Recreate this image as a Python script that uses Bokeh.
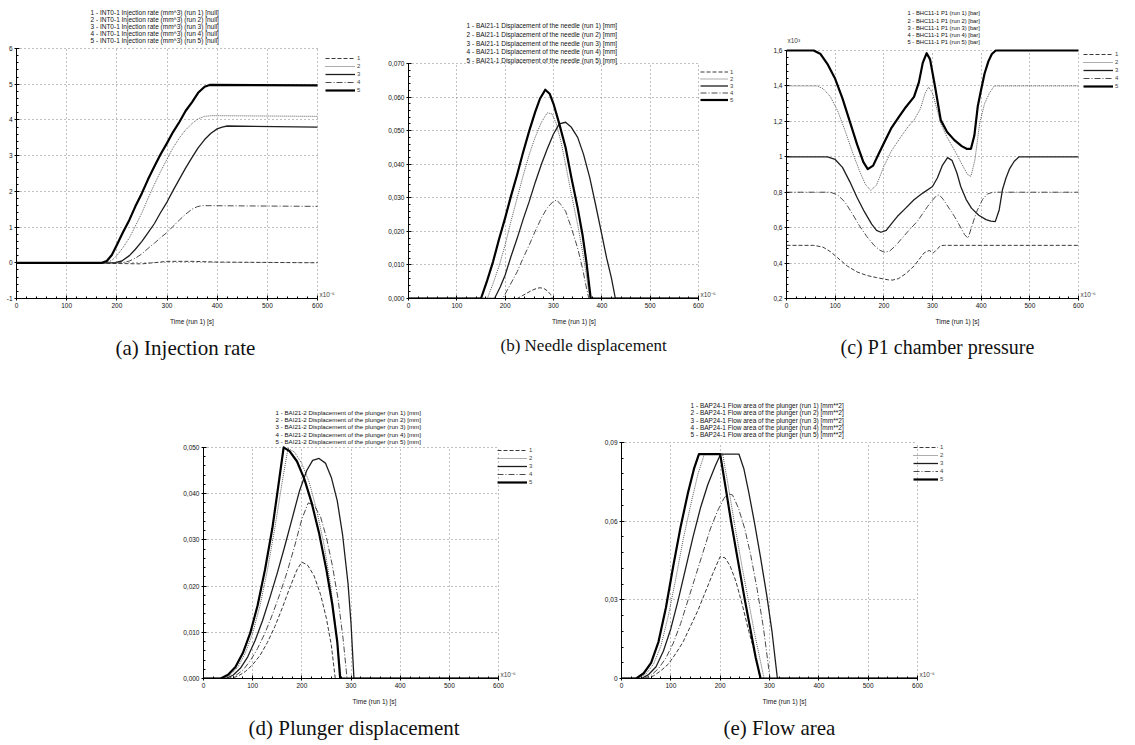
from bokeh.plotting import figure
from bokeh.layouts import column, row, Spacer
from bokeh.models import (Title, Legend, LegendItem, Label, Range1d,
                          SingleIntervalTicker, CustomJSTickFormatter)
from bokeh.embed import file_html
from bokeh.resources import INLINE

# ---------------- data ----------------
RUN_LABELS = ["1", "2", "3", "4", "5"]
TIME_LABEL = "Time (run 1) [s]"
X_TICK_MAX = 600

# (a) Injection rate (mm^3) vs time (x1e-6 s)
A_T1 = [0, 100, 200, 250, 280, 300, 350, 400, 500, 600]
A_V1 = [0, 0, -0.02, -0.03, 0.01, 0.04, 0.04, 0.02, 0.01, 0.0]
A_T2 = [0, 180, 190, 200, 212, 225, 237, 250, 262, 275, 287, 300, 312, 325, 337, 350, 362, 375, 390, 600]
A_V2 = [0, 0, 0.07, 0.2, 0.42, 0.7, 1.03, 1.4, 1.8, 2.2, 2.55, 2.9, 3.22, 3.5, 3.72, 3.9, 4.03, 4.1, 4.12, 4.1]
A_T3 = [0, 195, 210, 225, 237, 250, 262, 275, 287, 300, 312, 325, 337, 350, 362, 375, 387, 400, 410, 420, 600]
A_V3 = [0, 0, 0.05, 0.2, 0.38, 0.6, 0.84, 1.1, 1.4, 1.7, 2.02, 2.35, 2.65, 2.95, 3.22, 3.45, 3.62, 3.75, 3.8, 3.83, 3.8]
A_T4 = [0, 210, 225, 237, 250, 262, 275, 287, 300, 312, 325, 337, 350, 360, 370, 600]
A_V4 = [0, 0, 0.05, 0.13, 0.25, 0.4, 0.55, 0.7, 0.85, 1.02, 1.2, 1.36, 1.5, 1.57, 1.6, 1.58]
A_T5 = [0, 170, 180, 190, 200, 212, 225, 237, 250, 262, 275, 287, 300, 312, 325, 337, 350, 362, 375, 385, 600]
A_V5 = [0, 0, 0.05, 0.22, 0.5, 0.85, 1.2, 1.58, 1.95, 2.33, 2.7, 3.03, 3.35, 3.66, 3.95, 4.25, 4.5, 4.76, 4.93, 4.98, 4.97]

# (b) Needle displacement (mm)
B_T1 = [0, 225, 235, 245, 255, 265, 272, 280, 288, 294, 298, 600]
B_V1 = [0, 0, 0.0008, 0.0016, 0.0024, 0.003, 0.0032, 0.003, 0.0022, 0.0012, 0, 0]
B_T2 = [0, 163, 175, 187, 200, 212, 225, 237, 250, 262, 275, 287, 297, 306, 315, 325, 337, 350, 360, 368, 375, 600]
B_V2 = [0, 0, 0.0045, 0.0095, 0.016, 0.023, 0.030, 0.0365, 0.043, 0.048, 0.0525, 0.0553, 0.055, 0.052, 0.047, 0.040, 0.031, 0.022, 0.014, 0.007, 0, 0]
B_T3 = [0, 178, 190, 200, 212, 225, 237, 250, 262, 275, 287, 300, 312, 325, 337, 350, 362, 375, 387, 400, 410, 420, 428, 600]
B_V3 = [0, 0, 0.0035, 0.007, 0.0125, 0.018, 0.0235, 0.029, 0.0345, 0.040, 0.0445, 0.049, 0.052, 0.0525, 0.051, 0.048, 0.043, 0.036, 0.028, 0.019, 0.012, 0.006, 0, 0]
B_T4 = [0, 195, 210, 225, 237, 250, 262, 275, 287, 300, 307, 315, 325, 337, 350, 360, 367, 373, 600]
B_V4 = [0, 0, 0.004, 0.008, 0.012, 0.016, 0.020, 0.024, 0.027, 0.029, 0.0293, 0.028, 0.026, 0.021, 0.015, 0.009, 0.004, 0, 0]
B_T5 = [0, 150, 162, 175, 187, 200, 212, 225, 237, 250, 262, 272, 283, 292, 300, 312, 325, 337, 350, 360, 368, 377, 600]
B_V5 = [0, 0, 0.005, 0.011, 0.0175, 0.024, 0.0305, 0.037, 0.0435, 0.050, 0.0555, 0.0595, 0.0622, 0.061, 0.058, 0.052, 0.045, 0.036, 0.027, 0.019, 0.011, 0, 0]

# (c) P1 chamber pressure (x1e3 bar)
C_T1 = [0, 56, 75, 90, 105, 125, 145, 165, 185, 200, 210, 218, 230, 245, 262, 275, 283, 293, 302, 310, 317, 325, 600]
C_V1 = [0.5, 0.5, 0.49, 0.465, 0.43, 0.383, 0.35, 0.33, 0.318, 0.31, 0.305, 0.304, 0.312, 0.34, 0.383, 0.43, 0.458, 0.471, 0.458, 0.48, 0.499, 0.5, 0.5]
C_T2 = [0, 63, 75, 90, 105, 120, 135, 150, 162, 173, 185, 200, 215, 235, 250, 262, 275, 285, 292, 300, 310, 317, 330, 345, 360, 372, 379, 387, 397, 407, 417, 427, 600]
C_V2 = [1.4, 1.4, 1.385, 1.34, 1.26, 1.15, 1.03, 0.92, 0.845, 0.81, 0.84, 0.945, 1.03, 1.113, 1.17, 1.207, 1.27, 1.36, 1.394, 1.36, 1.26, 1.188, 1.11, 1.038, 0.96, 0.9, 0.89, 0.98, 1.19, 1.3, 1.36, 1.4, 1.4]
C_T3 = [0, 84, 100, 115, 130, 145, 160, 175, 185, 194, 205, 215, 228, 245, 262, 280, 300, 310, 320, 331, 340, 350, 358, 369, 380, 395, 410, 420, 429, 437, 444, 451, 458, 468, 478, 600]
C_V3 = [1.0, 1.0, 0.985, 0.94, 0.86, 0.77, 0.69, 0.62, 0.585, 0.574, 0.585, 0.62, 0.664, 0.71, 0.757, 0.795, 0.832, 0.88, 0.95, 0.995, 0.98, 0.91, 0.832, 0.76, 0.71, 0.67, 0.645, 0.637, 0.634, 0.7, 0.817, 0.88, 0.93, 0.975, 1.0, 1.0]
C_T4 = [0, 90, 105, 120, 135, 150, 165, 180, 192, 202, 212, 225, 235, 250, 269, 280, 290, 300, 308, 314, 322, 334, 345, 355, 366, 373, 380, 390, 403, 413, 424, 600]
C_V4 = [0.8, 0.8, 0.785, 0.745, 0.68, 0.61, 0.55, 0.5, 0.472, 0.461, 0.468, 0.5, 0.533, 0.58, 0.636, 0.68, 0.72, 0.755, 0.78, 0.785, 0.76, 0.71, 0.664, 0.615, 0.56, 0.54, 0.6, 0.686, 0.76, 0.79, 0.8, 0.8]
C_T5 = [0, 56, 70, 85, 100, 115, 130, 145, 158, 167, 178, 190, 200, 215, 231, 245, 262, 272, 280, 288, 295, 305, 317, 330, 345, 360, 370, 379, 386, 393, 400, 407, 415, 422, 430, 600]
C_V5 = [1.6, 1.6, 1.58, 1.52, 1.44, 1.33, 1.2, 1.07, 0.97, 0.93, 0.95, 1.02, 1.076, 1.16, 1.225, 1.28, 1.338, 1.42, 1.53, 1.585, 1.55, 1.4, 1.207, 1.14, 1.094, 1.06, 1.045, 1.045, 1.12, 1.285, 1.38, 1.47, 1.54, 1.58, 1.6, 1.6]

# (d) Plunger displacement (mm)
D_T1 = [0, 55, 70, 85, 100, 115, 130, 145, 160, 175, 190, 200, 212, 225, 238, 250, 260, 268, 600]
D_V1 = [0, 0, 0.0005, 0.0015, 0.003, 0.005, 0.0078, 0.0112, 0.0152, 0.0195, 0.0235, 0.0252, 0.0245, 0.0222, 0.0182, 0.0130, 0.0072, 0, 0]
D_T2 = [0, 40, 55, 70, 85, 100, 115, 130, 145, 160, 172, 185, 200, 215, 230, 245, 258, 268, 280, 600]
D_V2 = [0, 0, 0.0008, 0.0025, 0.0055, 0.0098, 0.0158, 0.0235, 0.0325, 0.0425, 0.0498, 0.0490, 0.0465, 0.0425, 0.0365, 0.0290, 0.0205, 0.0120, 0, 0]
D_T3 = [0, 45, 60, 75, 90, 105, 120, 135, 150, 165, 180, 195, 210, 222, 235, 248, 260, 272, 283, 294, 300, 306, 600]
D_V3 = [0, 0, 0.0007, 0.0022, 0.0047, 0.0082, 0.0125, 0.0175, 0.0228, 0.0285, 0.0345, 0.0405, 0.0450, 0.0472, 0.0476, 0.0466, 0.0435, 0.0385, 0.0310, 0.0205, 0.0120, 0, 0]
D_T4 = [0, 50, 65, 80, 95, 110, 125, 140, 155, 170, 185, 200, 213, 225, 238, 250, 262, 274, 284, 292, 600]
D_V4 = [0, 0, 0.0006, 0.0018, 0.0038, 0.0065, 0.0098, 0.0138, 0.0182, 0.0230, 0.0285, 0.0345, 0.0380, 0.0375, 0.0350, 0.0305, 0.0245, 0.0170, 0.0085, 0, 0]
D_T5 = [0, 35, 50, 65, 80, 95, 110, 125, 140, 152, 163, 175, 190, 205, 220, 235, 250, 262, 272, 278, 600]
D_V5 = [0, 0, 0.0008, 0.0025, 0.0055, 0.0098, 0.0158, 0.0235, 0.0325, 0.0415, 0.0500, 0.0492, 0.0470, 0.0432, 0.0380, 0.0315, 0.0235, 0.0160, 0.0080, 0, 0]

# (e) Flow area of the plunger (mm**2)
E_T1 = [0, 50, 65, 80, 95, 110, 125, 140, 155, 170, 185, 200, 210, 220, 232, 245, 258, 270, 281, 600]
E_V1 = [0, 0, 0.001, 0.003, 0.0055, 0.0095, 0.014, 0.020, 0.026, 0.033, 0.040, 0.0465, 0.046, 0.043, 0.037, 0.028, 0.018, 0.010, 0, 0]
E_T2 = [0, 35, 50, 65, 80, 95, 110, 125, 140, 155, 168, 205, 215, 230, 245, 258, 270, 280, 289, 600]
E_V2 = [0, 0, 0.0018, 0.0055, 0.0125, 0.024, 0.038, 0.053, 0.066, 0.078, 0.0856, 0.0856, 0.075, 0.058, 0.042, 0.029, 0.017, 0.008, 0, 0]
E_T3 = [0, 40, 55, 70, 85, 100, 115, 130, 145, 160, 175, 190, 201, 238, 248, 258, 270, 282, 295, 305, 316, 600]
E_V3 = [0, 0, 0.0015, 0.0045, 0.0105, 0.019, 0.030, 0.042, 0.054, 0.065, 0.074, 0.081, 0.0856, 0.0856, 0.080, 0.071, 0.059, 0.046, 0.031, 0.018, 0, 0]
E_T4 = [0, 45, 60, 75, 90, 105, 120, 135, 150, 165, 180, 195, 207, 215, 225, 237, 250, 262, 275, 288, 301, 600]
E_V4 = [0, 0, 0.0012, 0.0038, 0.0078, 0.0135, 0.021, 0.030, 0.039, 0.048, 0.057, 0.064, 0.0685, 0.0705, 0.0700, 0.065, 0.057, 0.047, 0.034, 0.019, 0, 0]
E_T5 = [0, 30, 45, 60, 75, 90, 105, 120, 135, 147, 157, 200, 210, 222, 235, 250, 262, 272, 282, 600]
E_V5 = [0, 0, 0.002, 0.006, 0.014, 0.027, 0.043, 0.058, 0.071, 0.080, 0.0856, 0.0856, 0.074, 0.060, 0.046, 0.030, 0.018, 0.008, 0, 0]

A_TITLE = [f"{i} - INT0-1 Injection rate (mm^3) (run {i}) [null]" for i in range(1, 6)]
B_TITLE = [f"{i} - BAI21-1 Displacement of the needle (run {i}) [mm]" for i in range(1, 6)]
C_TITLE = [f"{i} - BHC11-1 P1 (run {i}) [bar]" for i in range(1, 6)]
D_TITLE = [f"{i} - BAI21-2 Displacement of the plunger (run {i}) [mm]" for i in range(1, 6)]
E_TITLE = [f"{i} - BAP24-1 Flow area of the plunger (run {i}) [mm**2]" for i in range(1, 6)]

CAPTIONS = ["(a) Injection rate", "(b) Needle displacement", "(c) P1 chamber pressure",
            "(d) Plunger displacement", "(e) Flow area"]

# ---------------- styling ----------------
STYLES = [
    dict(line_color="#3a3a3a", line_width=1.0, line_dash="4 2"),
    dict(line_color="#5a5a5a", line_width=1.0, line_dash="1 1"),
    dict(line_color="#1e1e1e", line_width=1.3, line_dash="solid"),
    dict(line_color="#4a4a4a", line_width=1.0, line_dash="6 2 1 2"),
    dict(line_color="#000000", line_width=2.2, line_dash="solid"),
]
SMALL = "Liberation Sans"


def make_fig(series, title_lines, caption, y0, y1, yint, yfmt, width, height,
             bl, br, bt, bb, axis_right_px, y1_px,
             title_size, title_left, title_top, title_step,
             cap_size, cap_left, leg_left, leg_top, leg_glyph, leg_h):
    # frame geometry (figure-local pixels)
    FL, FR, FT, FB = bl, width - br, bt, height - bb
    sx = (axis_right_px - FL) / X_TICK_MAX
    x_end = (FR - FL) / sx
    sy = (FB - y1_px) / (y1 - y0)
    y_end = y1 + (y1_px - FT) / sy

    def px2x(px):
        return (px - FL) / sx

    def py2y(py):
        return y0 + (FB - py) / sy

    p = figure(width=width, height=height, output_backend="svg", toolbar_location=None,
               x_range=Range1d(0, x_end), y_range=Range1d(y0, y_end),
               min_border_left=bl, min_border_right=br, min_border_top=bt, min_border_bottom=bb)
    p.outline_line_color = None
    p.background_fill_color = "white"
    p.border_fill_color = "white"
    rends = []
    for (t, v), st in zip(series, STYLES):
        rends.append(p.line(t, v, line_join="round", **st))

    p.xaxis.ticker = SingleIntervalTicker(interval=100, num_minor_ticks=5)
    p.yaxis.ticker = SingleIntervalTicker(interval=yint, num_minor_ticks=5)
    p.yaxis.formatter = CustomJSTickFormatter(code=yfmt)
    p.xaxis.bounds = (0, X_TICK_MAX)
    p.yaxis.bounds = (y0, y1)
    for ax in (p.xaxis[0], p.yaxis[0]):
        ax.axis_line_color = "black"
        ax.major_tick_line_color = "black"
        ax.minor_tick_line_color = "black"
        ax.major_tick_in = 3
        ax.major_tick_out = 2
        ax.minor_tick_in = 2
        ax.minor_tick_out = 0
        ax.major_label_text_font = SMALL
        ax.major_label_text_font_size = "6.5px"
        ax.major_label_text_color = "#111111"
        ax.major_label_standoff = 2
    p.xaxis.axis_label = TIME_LABEL
    p.xaxis.axis_label_text_font = SMALL
    p.xaxis.axis_label_text_font_size = "6.5px"
    p.xaxis.axis_label_text_font_style = "normal"
    p.xaxis.axis_label_text_color = "#111111"
    p.xaxis.axis_label_standoff = 7

    for g in (p.xgrid[0], p.ygrid[0]):
        g.grid_line_color = "#808080"
        g.grid_line_dash = "1 3"
        g.grid_line_width = 1
    p.xgrid.bounds = (0, X_TICK_MAX)
    p.ygrid.bounds = (y0, y1)
    try:
        p.ygrid[0].cross_bounds = (0, X_TICK_MAX)
        p.xgrid[0].cross_bounds = (y0, y1)
    except Exception:
        pass

    # run list above the plot area, one text per line
    for i, line in enumerate(title_lines):
        p.add_layout(Label(x=px2x(title_left), y=py2y(title_top + i * title_step), text=line,
                           text_align="left", text_baseline="middle", text_font=SMALL,
                           text_font_size=title_size, text_color="#111111"))

    cap = Title(text=caption, align="left", offset=cap_left - FL, text_font="Liberation Serif",
                text_font_size=cap_size, text_font_style="normal", text_color="#111111",
                standoff=12)
    p.add_layout(cap, "below")

    pad = 1
    leg_height = 5 * leg_h + 2 * pad
    legend = Legend(items=[LegendItem(label=lab, renderers=[r]) for lab, r in zip(RUN_LABELS, rends)],
                    location=(leg_left - FL, FB - leg_top - leg_height),
                    label_text_font=SMALL, label_text_font_size="6px",
                    glyph_width=leg_glyph, glyph_height=leg_h, label_height=leg_h, label_width=4,
                    label_standoff=2, spacing=0, padding=pad, margin=0,
                    border_line_color=None, background_fill_alpha=0)
    p.add_layout(legend)

    p.add_layout(Label(x=X_TICK_MAX, y=y0, text="x10\u207b\u2076", x_offset=2, y_offset=1,
                       text_font=SMALL, text_font_size="6.5px", text_baseline="bottom"))
    p._py2y = py2y
    return p


INT_FMT = "return tick.toFixed(0);"
F3_FMT = "return tick.toFixed(3).replace('.', ',');"
C_FMT = "return (Math.abs(tick - 1) < 1e-9) ? '1' : tick.toFixed(1).replace('.', ',');"
E_FMT = "return (Math.abs(tick) < 1e-12) ? '0' : tick.toFixed(2).replace('.', ',');"

# top row: figures at x = 0, 375, 740 ; bottom row: x = 165, 560 (y offset 380)
fa = make_fig([(A_T1, A_V1), (A_T2, A_V2), (A_T3, A_V3), (A_T4, A_V4), (A_T5, A_V5)],
              A_TITLE, CAPTIONS[0], -1, 6, 1, INT_FMT, 375, 380, 16, 8, 2, 82, 317, 48,
              "6.5px", 90, 12, 6.9, "21px", 115, 325, 52, 30, 8)
fb = make_fig([(B_T1, B_V1), (B_T2, B_V2), (B_T3, B_V3), (B_T4, B_V4), (B_T5, B_V5)],
              B_TITLE, CAPTIONS[1], 0, 0.07, 0.01, F3_FMT, 365, 380, 33, 1, 2, 82, 323, 63,
              "6.5px", 91, 25, 8.75, "17px", 125, 325, 66, 28, 7)
fc = make_fig([(C_T1, C_V1), (C_T2, C_V2), (C_T3, C_V3), (C_T4, C_V4), (C_T5, C_V5)],
              C_TITLE, CAPTIONS[2], 0.2, 1.6, 0.2, C_FMT, 395, 380, 46, 7, 2, 82, 338, 50,
              "5.8px", 167, 12.7, 7.3, "20px", 100, 343, 48, 30, 8)
fc.add_layout(Label(x=0, y=fc._py2y(40), text="x10\u00b3", x_offset=1,
                    text_font=SMALL, text_font_size="6.5px", text_baseline="middle"))
fd = make_fig([(D_T1, D_V1), (D_T2, D_V2), (D_T3, D_V3), (D_T4, D_V4), (D_T5, D_V5)],
              D_TITLE, CAPTIONS[3], 0, 0.05, 0.01, F3_FMT, 395, 365, 38, 15, 2, 62, 333, 68,
              "6.2px", 110, 32.7, 7.25, "21px", 83, 332, 69, 30, 8)
fe = make_fig([(E_T1, E_V1), (E_T2, E_V2), (E_T3, E_V3), (E_T4, E_V4), (E_T5, E_V5)],
              E_TITLE, CAPTIONS[4], 0, 0.09, 0.03, E_FMT, 415, 365, 61, 28, 2, 62, 357, 63,
              "6.5px", 130, 25.7, 7.3, "21px", 163, 353, 66, 25, 8)

layout = column(row(fa, fb, fc), row(Spacer(width=165, height=365), fd, fe))

open("out.html", "w").write(file_html(layout, INLINE))
